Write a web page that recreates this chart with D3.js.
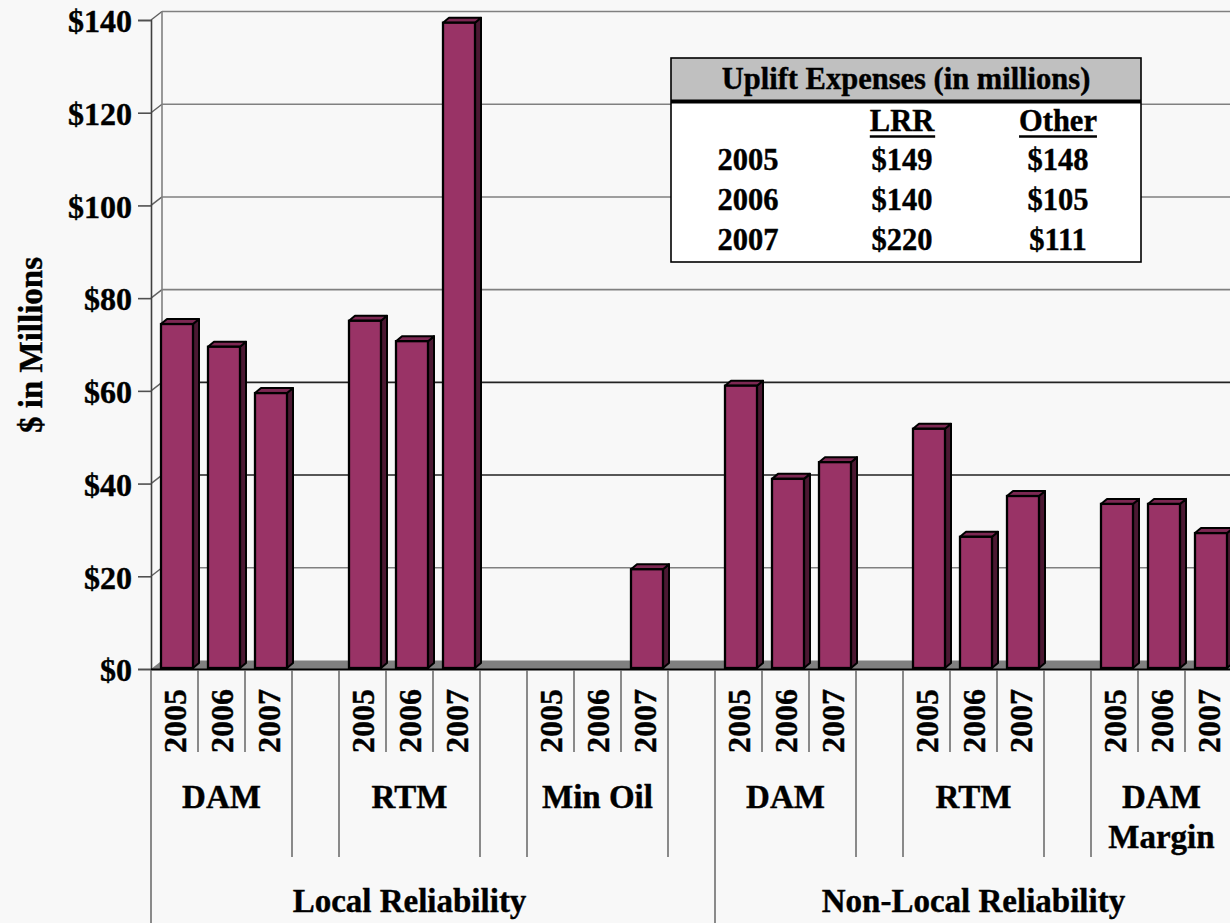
<!DOCTYPE html>
<html>
<head>
<meta charset="utf-8">
<script src="https://cdn.jsdelivr.net/npm/d3@7"></script>
<style>
  html, body { margin: 0; padding: 0; background: #f8f8f8; }
  svg { display: block; }
  text { font-family: "Liberation Serif", "Times New Roman", serif; font-weight: bold; fill: #000; stroke: #000; stroke-width: 0.4px; }
</style>
</head>
<body>
<svg id="chart" width="1230" height="923"></svg>
<script>
// ---- data ($ millions) ----
const years = ["2005", "2006", "2007"];
const groupLabels = [["DAM"], ["RTM"], ["Min Oil"], ["DAM"], ["RTM"], ["DAM", "Margin"]];
const sectionLabels = ["Local Reliability", "Non-Local Reliability"];
const groupSection = [0, 0, 0, 1, 1, 1];

const damLocal = [74.2, 69.3, 59.3];
const rtmLocal = [74.9, 70.5, 139.2];
const minOil = [0, 0, 21.3];
const damNonLocal = [60.9, 40.8, 44.4];
const rtmNonLocal = [51.6, 28.3, 37.1];
const damMargin = [35.4, 35.4, 29.1];
const groupValues = [damLocal, rtmLocal, minOil, damNonLocal, rtmNonLocal, damMargin];

const yTicks = [0, 20, 40, 60, 80, 100, 120, 140];

// summary table
const tableTitle = "Uplift Expenses (in millions)";
const tableColumns = ["LRR", "Other"];
const tableYears = ["2005", "2006", "2007"];
const lrrTotals = ["$149", "$140", "$220"];
const otherTotals = ["$148", "$105", "$111"];

// ---- layout ----
const svg = d3.select("#chart");
const W = 1230, H = 923;
const left = 151, slotW = 47;
const nSlots = groupValues.length * 4 - 1;     // 3 years per group + a spacer slot between groups
const depthX = 11, depthY = -8.5;             // back-wall offset of the 3-D box
const barDX = 6, barDY = -5;                  // bar depth
const barInset = 10, barW = 32;

const x = d3.scaleBand().domain(d3.range(nSlots)).range([left, left + nSlots * slotW]).padding(0);
const y = d3.scaleLinear().domain([0, 140]).range([669, 20]);

const bars = [];
groupValues.forEach((vals, g) => {
  vals.forEach((v, i) => bars.push({ group: g, year: years[i], slot: g * 4 + i, value: v }));
});

svg.append("rect").attr("width", W).attr("height", H).attr("fill", "#f8f8f8");

// back wall gridlines and side-wall diagonals
const grid = svg.append("g");
yTicks.filter(d => d > 0).forEach(d => {
  const dark = d === 40 || d === 60;
  const col = dark ? "#222" : "#808080";
  grid.append("line")
    .attr("x1", left + depthX).attr("x2", W + 20)
    .attr("y1", y(d) + depthY).attr("y2", y(d) + depthY)
    .attr("stroke", col).attr("stroke-width", 1.6);
  grid.append("line")
    .attr("x1", left).attr("y1", y(d))
    .attr("x2", left + depthX).attr("y2", y(d) + depthY)
    .attr("stroke", "#606060").attr("stroke-width", 1.4);
});
grid.append("line")
  .attr("x1", left + depthX).attr("x2", left + depthX)
  .attr("y1", y(140) + depthY).attr("y2", y(0) + depthY)
  .attr("stroke", "#808080").attr("stroke-width", 1.6);

// floor
svg.append("path")
  .attr("d", `M${left},${y(0)} L${left + depthX},${y(0) + depthY} L${W + 20},${y(0) + depthY} L${W + 20 - depthX},${y(0)} Z`)
  .attr("fill", "#808080");

// 3-D bars
const barG = svg.append("g").selectAll("g").data(bars.filter(d => d.value > 0)).join("g");
const base = y(0) - 1;
barG.append("path") // side
  .attr("d", d => {
    const x0 = x(d.slot) + barInset + barW, yt = y(d.value) - 1;
    return `M${x0},${yt} L${x0 + barDX},${yt + barDY} L${x0 + barDX},${base + barDY} L${x0},${base} Z`;
  })
  .attr("fill", "#4b1832").attr("stroke", "#000").attr("stroke-width", 2).attr("stroke-linejoin", "round");
barG.append("path") // top
  .attr("d", d => {
    const x0 = x(d.slot) + barInset, yt = y(d.value) - 1;
    return `M${x0},${yt} L${x0 + barDX},${yt + barDY} L${x0 + barW + barDX},${yt + barDY} L${x0 + barW},${yt} Z`;
  })
  .attr("fill", "#7d2853").attr("stroke", "#000").attr("stroke-width", 2).attr("stroke-linejoin", "round");
barG.append("rect") // front
  .attr("x", d => x(d.slot) + barInset)
  .attr("y", d => y(d.value) - 1)
  .attr("width", barW)
  .attr("height", d => base - (y(d.value) - 1))
  .attr("fill", "#993366").attr("stroke", "#000").attr("stroke-width", 2.3);

// y axis
const yAxis = svg.append("g")
  .attr("transform", `translate(${left},0)`)
  .call(d3.axisLeft(y).tickValues(yTicks).tickSize(13).tickPadding(6).tickFormat(d => "$" + d));
yAxis.select(".domain").attr("stroke", "#404040").attr("stroke-width", 1.6);
yAxis.selectAll(".tick line").attr("stroke", "#505050").attr("stroke-width", 1.6);
yAxis.selectAll(".tick text")
  .attr("dy", "0.37em")
  .style("font-size", "32px").style("font-family", "'Liberation Serif', 'Times New Roman', serif")
  .style("font-weight", "bold").attr("fill", "#000");

svg.append("text")
  .attr("transform", "translate(42,345) rotate(-90)")
  .attr("text-anchor", "middle")
  .style("font-size", "33px")
  .text("$ in Millions");

// x axis line
svg.append("line")
  .attr("x1", left).attr("x2", W + 10)
  .attr("y1", y(0) + 0.5).attr("y2", y(0) + 0.5)
  .attr("stroke", "#000").attr("stroke-width", 1.8);

// category separators: year / group / section levels
const sepG = svg.append("g");
d3.range(nSlots + 1).forEach(b => {
  let y2;
  if (b === 0 || b === 12 || b === nSlots) y2 = H;
  else if (b % 4 === 0 || b % 4 === 3) y2 = 857;
  else y2 = 752;
  sepG.append("line")
    .attr("x1", left + b * slotW).attr("x2", left + b * slotW)
    .attr("y1", y(0) + 1).attr("y2", y2)
    .attr("stroke", "#666").attr("stroke-width", 1.5);
});

// year labels
svg.append("g").selectAll("text").data(bars).join("text")
  .attr("transform", d => `translate(${x(d.slot) + slotW / 2},689) rotate(-90)`)
  .attr("text-anchor", "end")
  .attr("dy", "0.35em")
  .style("font-size", "32px")
  .text(d => d.year);

// group labels
groupLabels.forEach((lines, g) => {
  const cx = x(g * 4) + 1.5 * slotW;
  const t = svg.append("text").attr("text-anchor", "middle").style("font-size", "33px");
  lines.forEach((ln, k) => t.append("tspan").attr("x", cx).attr("y", 808 + k * 40).text(ln));
});

// section labels (centred over their group slots)
sectionLabels.forEach((lab, s) => {
  const gs = groupSection.map((v, i) => v === s ? i : -1).filter(i => i >= 0);
  const x0 = x(gs[0] * 4), x1 = x(gs[gs.length - 1] * 4 + 2) + slotW;
  svg.append("text")
    .attr("x", (x0 + x1) / 2).attr("y", 912)
    .attr("text-anchor", "middle")
    .style("font-size", "33px")
    .text(lab);
});

// summary table
const tb = { x: 671, y: 58, w: 470, h: 204 };
const tg = svg.append("g");
tg.append("rect").attr("x", tb.x).attr("y", tb.y).attr("width", tb.w).attr("height", tb.h)
  .attr("fill", "#fff");
tg.append("rect").attr("x", tb.x).attr("y", tb.y).attr("width", tb.w).attr("height", 43)
  .attr("fill", "#c0c0c0");
tg.append("line").attr("x1", tb.x).attr("x2", tb.x + tb.w).attr("y1", 101.5).attr("y2", 101.5)
  .attr("stroke", "#000").attr("stroke-width", 4);
tg.append("rect").attr("x", tb.x).attr("y", tb.y).attr("width", tb.w).attr("height", tb.h)
  .attr("fill", "none").attr("stroke", "#000").attr("stroke-width", 1.6);
tg.append("text").attr("x", tb.x + tb.w / 2).attr("y", 89).attr("text-anchor", "middle")
  .style("font-size", "30.5px").text(tableTitle);

const colX = [748, 902, 1058];
tableColumns.forEach((c, i) => {
  const t = tg.append("text").attr("x", colX[i + 1]).attr("y", 130.5).attr("text-anchor", "middle")
    .style("font-size", "30.5px").text(c);
  const bb = t.node().getBBox();
  tg.append("line").attr("x1", bb.x).attr("x2", bb.x + bb.width).attr("y1", 136.5).attr("y2", 136.5)
    .attr("stroke", "#000").attr("stroke-width", 2.5);
});
tableYears.forEach((yr, r) => {
  const yy = 170 + r * 40;
  [yr, lrrTotals[r], otherTotals[r]].forEach((v, i) => {
    tg.append("text").attr("x", colX[i]).attr("y", yy).attr("text-anchor", "middle")
      .style("font-size", "30.5px").text(v);
  });
});
</script>
</body>
</html>
